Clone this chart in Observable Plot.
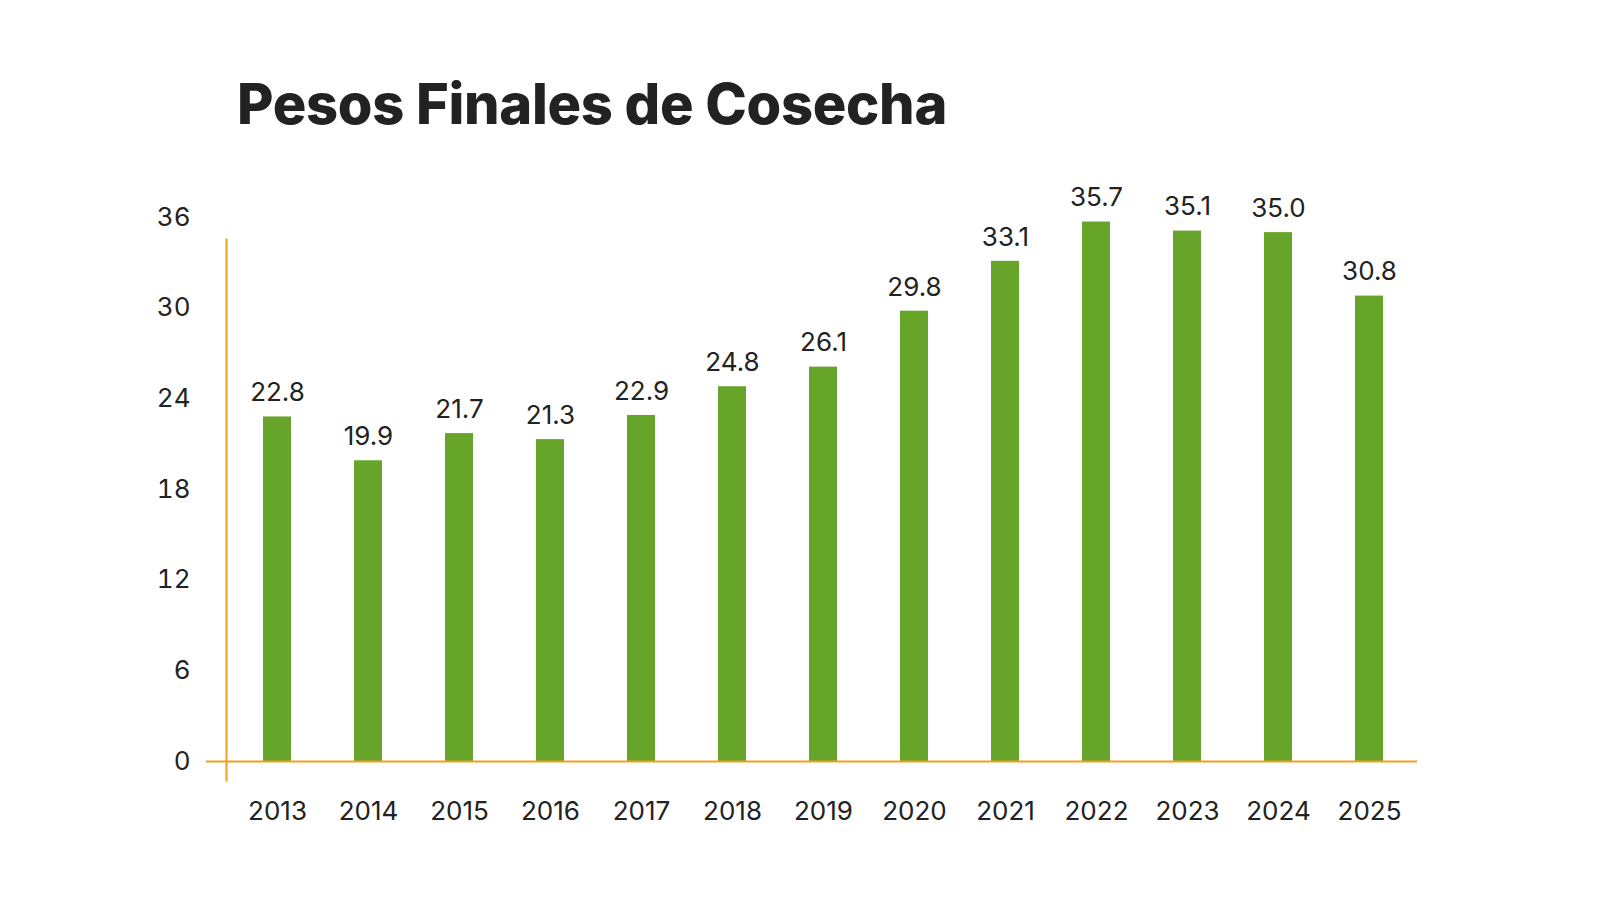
<!DOCTYPE html>
<html><head><meta charset="utf-8">
<script src="https://cdn.jsdelivr.net/npm/d3@7"></script>
<script src="https://cdn.jsdelivr.net/npm/@observablehq/plot@0.6"></script>
<style>
body{margin:0;background:#fff;font-family:Inter,sans-serif;}
h1{margin:0;position:absolute;left:237px;top:70px;font-size:56px;font-weight:800;color:#222;letter-spacing:-0.3px}
#c{position:absolute;left:0;top:150px}
</style></head><body>
<h1>Pesos Finales de Cosecha</h1>
<div id="c"></div>
<script>
const years=["2013","2014","2015","2016","2017","2018","2019","2020","2021","2022","2023","2024","2025"];
const values=[22.8,19.9,21.7,21.3,22.9,24.8,26.1,29.8,33.1,35.7,35.1,35.0,30.8];
const yTicks=[0,6,12,18,24,30,36];
const data=years.map((y,i)=>({year:y,value:values[i]}));
const orange="#f0a020";
const chart=Plot.plot({
  width:1600,height:700,marginLeft:230,marginRight:183,marginTop:67,marginBottom:89,
  style:{fontFamily:"Inter,sans-serif",fontSize:"26px",color:"#222"},
  x:{domain:years,paddingInner:0.69,paddingOuter:0.345,label:null},
  y:{domain:[0,36],ticks:yTicks,label:null},
  marks:[
    Plot.axisX({tickSize:0,tickPadding:40,fontSize:26}),
    Plot.axisY({ticks:yTicks,tickSize:0,tickPadding:40,fontSize:26}),
    Plot.barY(data,{x:"year",y:"value",fill:"#67a52a"}),
    Plot.text(data,{x:"year",y:"value",text:d=>d.value.toFixed(1),dy:-24,fontSize:26,fill:"#222"}),
    Plot.ruleY([0],{stroke:orange,strokeWidth:2,insetLeft:-24,insetRight:0}),
    Plot.frame({anchor:"left",stroke:orange,strokeWidth:2,insetTop:22,insetBottom:-19,dx:-4})
  ]
});
document.getElementById("c").appendChild(chart);
</script></body></html>
